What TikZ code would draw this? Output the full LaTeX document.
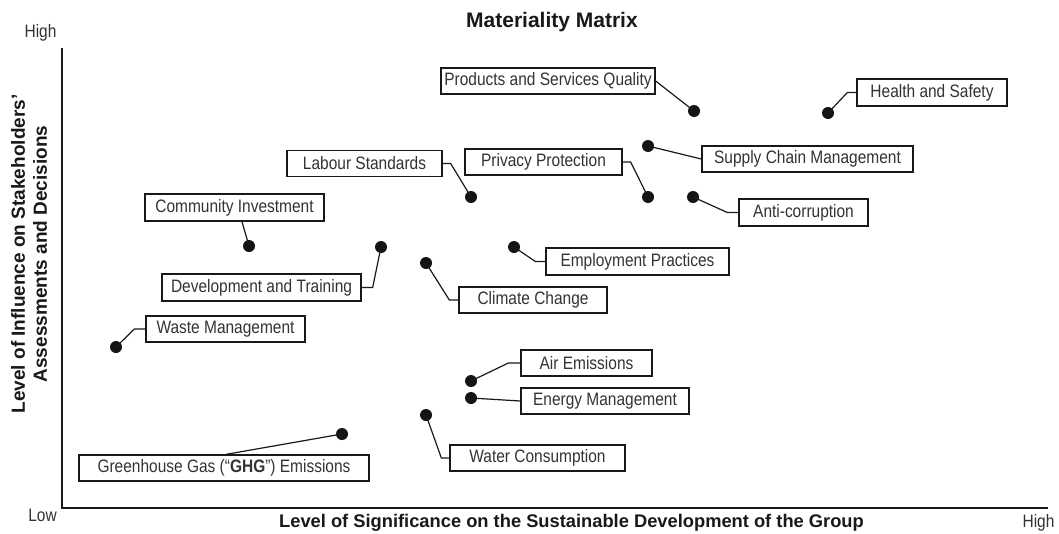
\documentclass[tikz,border=0pt]{standalone}
\usepackage{fontspec}
\setmainfont{Liberation Sans}
\newfontfamily\labfont[FakeStretch=0.86]{Liberation Sans}
\begin{document}
\begin{tikzpicture}[x=1pt,y=-1pt,
  box/.style={draw=black!90, line width=1.3pt, minimum height=26pt, inner sep=0pt,
    text=black!80, font=\labfont\fontsize{18}{20}\selectfont},
  dot/.style={circle, fill=black!92, minimum size=12pt, inner sep=0pt},
  conn/.style={draw=black!90, line width=1.2pt},
  axislab/.style={font=\bfseries\fontsize{18.3}{22}\selectfont, text=black!90},
  endlab/.style={font=\labfont\fontsize{18}{20}\selectfont, text=black!80, inner sep=0pt}]
\useasboundingbox (0,0) rectangle (1059,533);
\fill[white] (0,0) rectangle (1059,533);

% axes
\coordinate (ytop) at (62,48);
\coordinate (orig) at (62,508);
\coordinate (xend) at (1048,508);
\draw[line width=2.6pt, black!90] (ytop) -- (orig) -- (xend);

% titles and axis labels
\node[font=\bfseries\fontsize{21}{24}\selectfont, text=black!90] (title) at (552,22) {Materiality Matrix};
\node[endlab] (yhigh) at (40.5,33) {High};
\node[endlab] (ylow) at (42.5,515) {Low};
\node[endlab] (xhigh) at (1038.5,523) {High};
\node[axislab] (xlab) at (571.5,523) {Level of Significance on the Sustainable Development of the Group};
\node[axislab, rotate=90, align=center, font=\bfseries\fontsize{19}{22}\selectfont] (ylab) at (29,254)
  {Level of Influence on Stakeholders'\\Assessments and Decisions};

% boxes
\node[box, minimum width=214pt] (prod) at (548,81) {Products and Services Quality};
\node[box, minimum width=150pt, minimum height=27pt] (health) at (932,92.5) {Health and Safety};
\node[box, minimum width=211pt] (supply) at (807.5,159) {Supply Chain Management};
\node[box, minimum width=157pt] (privacy) at (543.5,162) {Privacy Protection};
\node[box, minimum width=155pt] (labour) at (364.5,163.5) {Labour Standards};
\node[box, minimum width=129pt, minimum height=27pt] (anti) at (803.5,212.5) {Anti-corruption};
\node[box, minimum width=179pt, minimum height=27pt] (comm) at (234.5,207.5) {Community Investment};
\node[box, minimum width=183pt, minimum height=27pt] (employ) at (637.5,261.5) {Employment Practices};
\node[box, minimum width=199pt, minimum height=27pt] (dev) at (261.5,287.5) {Development and Training};
\node[box, minimum width=148pt] (climate) at (533,300) {Climate Change};
\node[box, minimum width=159pt] (waste) at (225.5,329) {Waste Management};
\node[box, minimum width=131pt] (air) at (586.5,363) {Air Emissions};
\node[box, minimum width=168pt] (energy) at (605,401) {Energy Management};
\node[box, minimum width=175pt] (water) at (537.5,458) {Water Consumption};
\node[box, minimum width=290pt] (ghg) at (224,468) {Greenhouse Gas (“\textbf{GHG}”) Emissions};

% dots
\node[dot] (dprod) at (694,111) {};
\node[dot] (dhealth) at (828,113) {};
\node[dot] (dsupply) at (648,146) {};
\node[dot] (dprivacy) at (648,197) {};
\node[dot] (dlabour) at (471,197) {};
\node[dot] (danti) at (693,197) {};
\node[dot] (dcomm) at (249,246) {};
\node[dot] (demploy) at (514,247) {};
\node[dot] (ddev) at (381,247) {};
\node[dot] (dclimate) at (426,263) {};
\node[dot] (dwaste) at (116,347) {};
\node[dot] (dair) at (471,381) {};
\node[dot] (denergy) at (471,398) {};
\node[dot] (dwater) at (426,415) {};
\node[dot] (dghg) at (342,434) {};

% connectors
\draw[conn] (prod.east) -- (dprod.center);
\draw[conn] (health.west) -- ++(-9,0) -- (dhealth.center);
\draw[conn] (supply.west) -- (dsupply.center);
\draw[conn] (privacy.east) -- ++(8,0) -- (dprivacy.center);
\draw[conn] (labour.east) -- ++(8,0) -- (dlabour.center);
\draw[conn] (anti.west) -- ++(-11,0) -- (danti.center);
\draw[conn] ([xshift=7.5pt]comm.south) -- (dcomm.center);
\draw[conn] (employ.west) -- ++(-10,0) -- (demploy.center);
\draw[conn] (dev.east) -- ++(11,0) -- (ddev.center);
\draw[conn] (climate.west) -- ++(-9,0) -- (dclimate.center);
\draw[conn] (waste.west) -- ++(-11,0) -- (dwaste.center);
\draw[conn] (air.west) -- ++(-12,0) -- (dair.center);
\draw[conn] (energy.west) -- (denergy.center);
\draw[conn] (water.west) -- ++(-8,0) -- (dwater.center);
\draw[conn] ([xshift=2pt]ghg.north) -- (dghg.center);
\end{tikzpicture}
\end{document}
